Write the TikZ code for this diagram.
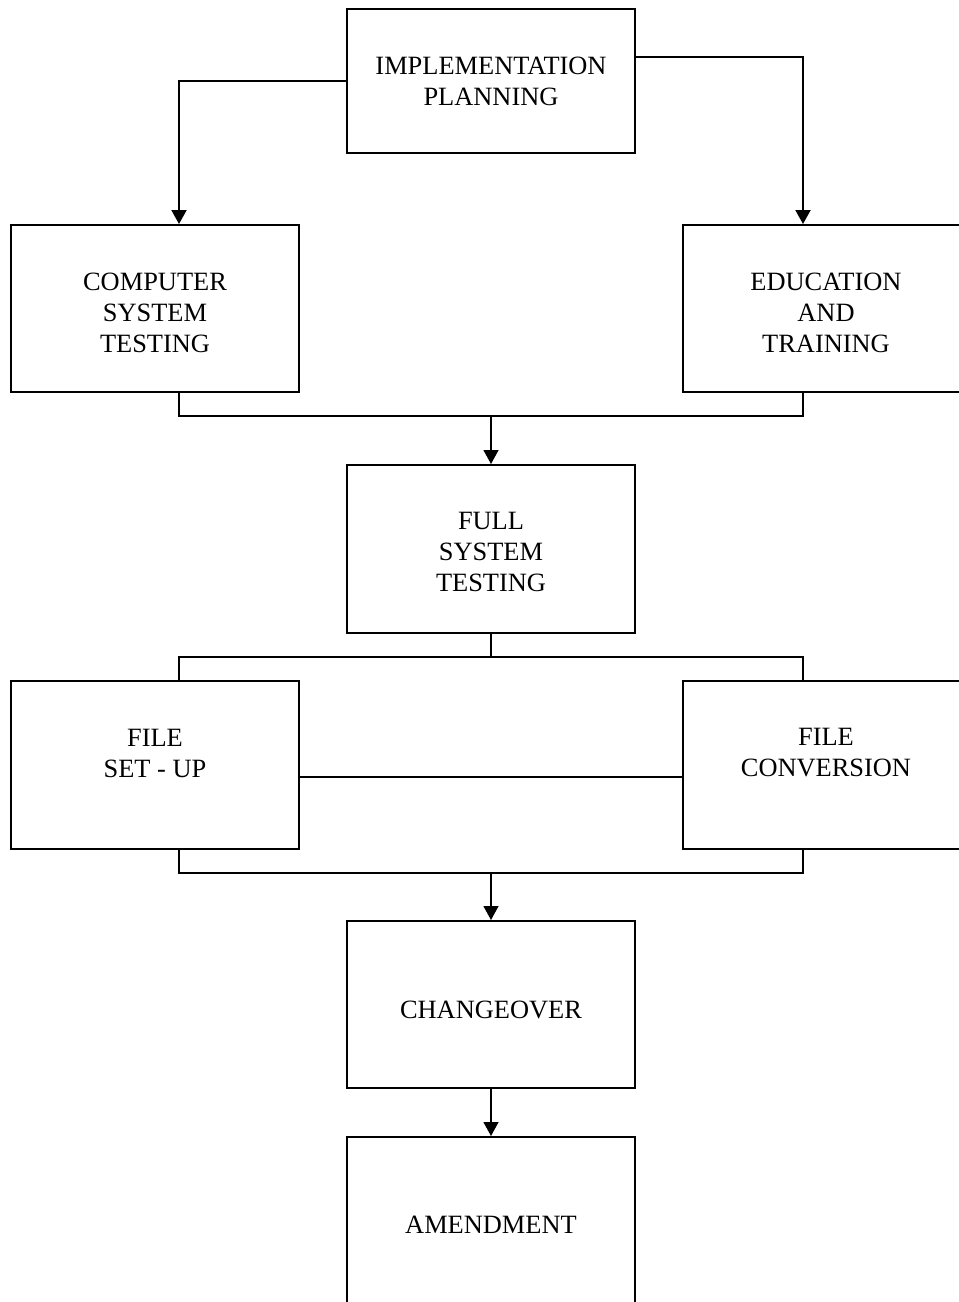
\documentclass[tikz,border=0pt]{standalone}
\usepackage{fontspec}
\setmainfont{Liberation Serif}
\usetikzlibrary{arrows.meta}
\begin{document}
\begin{tikzpicture}[x=1pt,y=-1pt,
  box/.style={draw,line width=2pt,minimum width=288pt,inner sep=0pt},
  txt/.style={align=center,font=\fontsize{26.4}{31}\selectfont,inner sep=0pt},
  link/.style={line width=2pt},
  thinlink/.style={line width=1.2pt},
  arr/.style={-{Triangle[width=15pt,length=14pt]}}]
\useasboundingbox (0,0) rectangle (959,1302);
\clip (0,0) rectangle (959,1302);

% boxes
\node[box,minimum height=144pt] (impl)  at (491,81)     {};
\node[box,minimum height=167pt] (comp)  at (155,308.5)  {};
\node[box,minimum height=167pt] (edu)   at (827,308.5)  {};
\node[box,minimum height=168pt] (full)  at (491,549)    {};
\node[box,minimum height=168pt] (setup) at (155,765)    {};
\node[box,minimum height=168pt] (conv)  at (827,765)    {};
\node[box,minimum height=167pt] (chg)   at (491,1004.5) {};
\node[box,minimum height=168pt] (amend) at (491,1221)   {};

% labels
\node[txt] (impl-t)  at (491,81)    {IMPLEMENTATION\\PLANNING};
\node[txt] (comp-t)  at (155,312.5) {COMPUTER\\SYSTEM\\TESTING};
\node[txt] (edu-t)   at (826,312.5) {EDUCATION\\AND\\TRAINING};
\node[txt] (full-t)  at (491,552)   {FULL\\SYSTEM\\TESTING};
\node[txt] (setup-t) at (155,753)   {FILE\\SET - UP};
\node[txt] (conv-t)  at (826,753)   {FILE\\CONVERSION};
\node[txt] (chg-t)   at (491,1010)  {CHANGEOVER};
\node[txt] (amend-t) at (491,1225)  {AMENDMENT};

% planning branches out to the two test/training boxes
\draw[link,arr] (impl.west) -| ([xshift=24pt]comp.north);
\draw[link,arr] ([yshift=24pt]impl.east) -| ([xshift=-24pt]edu.north);

% both join into full system testing
\coordinate (m1) at (491,416);
\draw[link] ([xshift=24pt]comp.south) |- (m1) -| ([xshift=-24pt]edu.south);
\draw[thinlink,arr] (m1) -- (full.north);

% split to the file boxes
\coordinate (s1) at (491,657);
\draw[thinlink] (full.south) -- (s1);
\draw[link] ([xshift=24pt]setup.north) |- (s1) -| ([xshift=-24pt]conv.north);
\draw[link] ([yshift=-12pt]setup.east) -- ([yshift=-12pt]conv.west);

% join into changeover
\coordinate (m2) at (491,873);
\draw[link] ([xshift=24pt]setup.south) |- (m2) -| ([xshift=-24pt]conv.south);
\draw[thinlink,arr] (m2) -- (chg.north);
\draw[thinlink,arr] (chg.south) -- (amend.north);
\end{tikzpicture}
\end{document}
